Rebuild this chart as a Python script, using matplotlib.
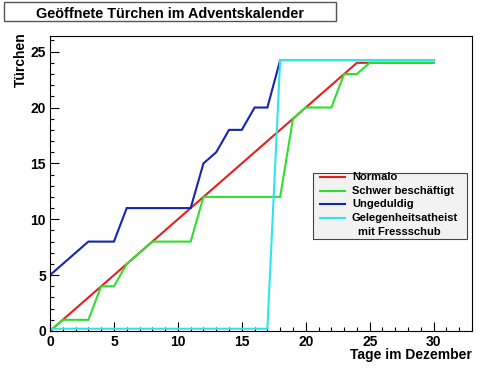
import numpy as np
import matplotlib
matplotlib.use("Agg")
import matplotlib.pyplot as plt
from matplotlib.patches import Rectangle
from matplotlib.lines import Line2D

plt.rcParams['font.family'] = ['Liberation Sans', 'DejaVu Sans']
plt.rcParams['font.weight'] = 'bold'

# Daten: geoeffnete Tuerchen pro Tag
normalo_x = [0, 24, 30]
normalo_y = [0, 24, 24]

schwer_x = [0, 1, 3, 4, 5, 6, 7, 8, 11, 12, 18, 19, 20, 22, 23, 24, 25, 30]
schwer_y = [0, 1, 1, 4, 4, 6, 7, 8, 8, 12, 12, 19, 20, 20, 23, 23, 24, 24]

ungeduldig_x = [0, 3, 5, 6, 11, 12, 13, 14, 15, 16, 17, 18, 30]
ungeduldig_y = [5, 8, 8, 11, 11, 15, 16, 18, 18, 20, 20, 24.25, 24.25]

atheist_x = [0, 17, 18, 30]
atheist_y = [0.2, 0.2, 24.25, 24.25]

labels = ["Normalo", "Schwer beschäftigt", "Ungeduldig", "Gelegenheitsatheist"]
colors = ["#e3201c", "#2ee02e", "#1426b0", "#30e4ee"]

W, H = 500, 369
fig = plt.figure(figsize=(5, 3.69), dpi=100)
ax = fig.add_axes([50 / W, 1 - 331 / H, 422 / W, 295 / H])

series = [(normalo_x, normalo_y), (schwer_x, schwer_y),
          (ungeduldig_x, ungeduldig_y), (atheist_x, atheist_y)]
for (xs, ys), c in zip(series, colors):
    ax.plot(xs, ys, color=c, lw=1.5, solid_joinstyle='miter')

ax.set_xlim(0, 33)
ax.set_ylim(0, 26.4)
ax.set_xticks(np.arange(0, 31, 5))
ax.set_xticks(np.arange(0, 34, 1), minor=True)
ax.set_yticks(np.arange(0, 26, 5))
ax.set_yticks(np.arange(0, 27, 1), minor=True)
ax.tick_params(which='both', direction='in', top=False, right=False,
               labelsize=10, width=0.8)
ax.tick_params(which='major', length=6.5)
ax.tick_params(which='minor', length=3.2)
ax.tick_params(axis='x', pad=3)
ax.tick_params(axis='y', pad=3)
for lab in ax.get_xticklabels() + ax.get_yticklabels():
    lab.set_fontweight('bold')
for s in ax.spines.values():
    s.set_linewidth(0.8)

fig.text(472 / W, 1 - 355 / H, "Tage im Dezember", ha='right', va='center',
         fontsize=10, fontweight='bold')
fig.text(21 / W, 1 - 32 / H, "Türchen", rotation=90, ha='center', va='top',
         fontsize=10, fontweight='bold')

# Titelbox
fig.add_artist(Rectangle((4 / W, 1 - 21 / H), 332 / W, 19 / H,
                         transform=fig.transFigure, facecolor='white',
                         edgecolor='#555555', lw=1))
fig.text(170 / W, 1 - 14 / H, "Geöffnete Türchen im Adventskalender",
         ha='center', va='center', fontsize=10.4, fontweight='bold')

# Legende
fig.add_artist(Rectangle((313 / W, 1 - 239 / H), 154 / W, 66 / H,
                         transform=fig.transFigure, facecolor='#f2f2f2',
                         edgecolor='#444444', lw=0.8))
rows = [177, 191, 204, 218]
for lab, c, yy in zip(labels, colors, rows):
    fig.add_artist(Line2D([320 / W, 345 / W], [1 - yy / H, 1 - yy / H],
                          transform=fig.transFigure, color=c, lw=1.5))
    fig.text(352 / W, 1 - yy / H, lab, ha='left', va='center',
             fontsize=8, fontweight='bold')
fig.text(358 / W, 1 - 232 / H, "mit Fressschub", ha='left', va='center',
         fontsize=8, fontweight='bold')

fig.savefig("out.png", dpi=100)
